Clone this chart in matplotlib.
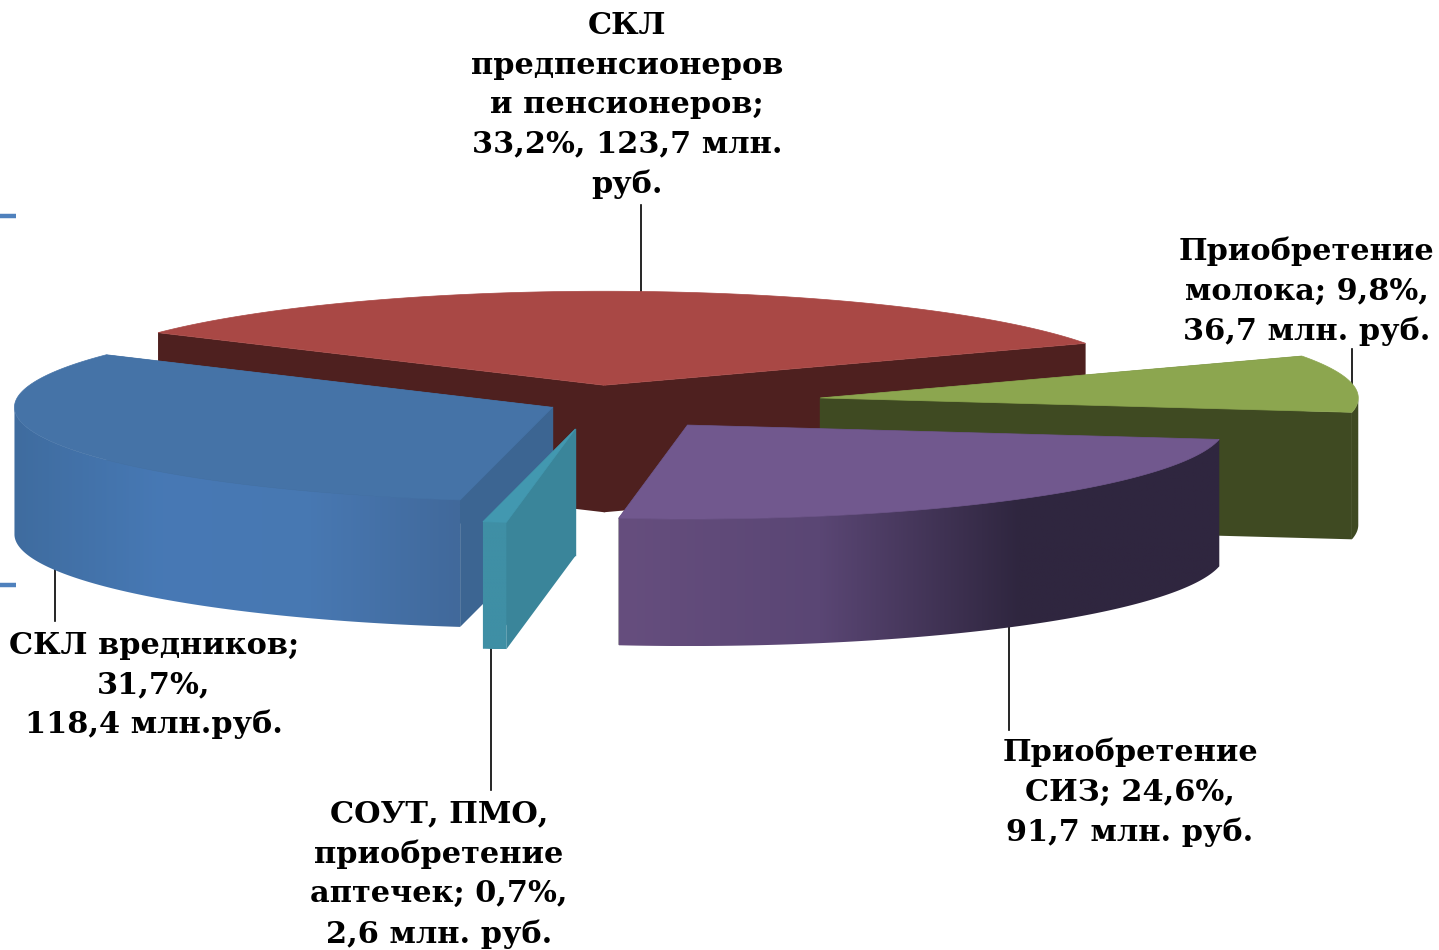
import matplotlib
matplotlib.use('Agg')
import matplotlib.pyplot as plt
from matplotlib.colors import LinearSegmentedColormap
from matplotlib.patches import Polygon
import numpy as np

labels = [
    "СКЛ\nпредпенсионеров\nи пенсионеров;\n33,2%, 123,7 млн.\nруб.",
    "Приобретение\nмолока; 9,8%,\n36,7 млн. руб.",
    "Приобретение\nСИЗ; 24,6%,\n91,7 млн. руб.",
    "СОУТ, ПМО,\nприобретение\nаптечек; 0,7%,\n2,6 млн. руб.",
    "СКЛ вредников;\n31,7%,\n118,4 млн.руб.",
]
shares = [33.2, 9.8, 24.6, 0.7, 31.7]

# look of the slices, same order as shares
explode = [0.20, 0.42, 0.28, 0.27, 0.09]
top_colors = ['#A94845', '#8CA64F', '#71588E', '#4298B0', '#4573A7']
cut_colors = ['#4E201F', '#3F4A22', '#31263F', '#3A859A', '#3C6592']
wall_colors = [
    ['#4E201F', '#4E201F'],
    ['#3F4A22', '#3F4A22'],
    ['#664E7E', '#5A4674', '#2F263F', '#30263F'],
    ['#3F8FA5', '#3F8FA5'],
    ['#3F6C9F', '#4779B5', '#4878B2', '#41699B'],
]
label_pos = [(627, 105), (1307, 291), (1130, 792), (439, 874), (154, 685)]
leaders = [((641, 205), (641, 295)), ((1352, 349), (1352, 390)),
           ((1009, 620), (1009, 730)), ((491, 645), (491, 790)),
           ((55, 560), (55, 621))]

cx, cy = 597, 404       # pie centre in px
rx, ry = 538, 94        # ellipse of the tilted pie
depth = 127
start_angle = 146.0

fig, ax = plt.subplots(figsize=(14.39, 9.5), dpi=100)
ax.set_position([0, 0, 1, 1])
ax.axis('off')

for p0, p1 in leaders:
    ax.plot([p0[0], p1[0]], [p0[1], p1[1]], color='black', lw=1.2, zorder=1)
for y in (216, 585):
    ax.plot([0, 16], [y, y], color='#4F81BD', lw=3.2, solid_capstyle='butt', zorder=1)


def ell(ox, oy, deg):
    t = np.radians(deg)
    return ox + rx * np.cos(t), oy - ry * np.sin(t)


# angles of every slice, clockwise from the start
ends = start_angle - np.cumsum(shares) * 3.6
starts = np.r_[start_angle, ends[:-1]]
# painter order: back slices first
order = [0, 1, 4, 3, 2]
z = 2
for i in order:
    a0, a1 = starts[i], ends[i]
    mid = np.radians((a0 + a1) / 2)
    ox = cx + explode[i] * rx * np.cos(mid)
    oy = cy - explode[i] * ry * np.sin(mid)
    ang = np.linspace(a0, a1, 240)
    ex, ey = ell(ox, oy, ang)

    # flat cut faces, the short line hides the seam at the apex
    for a in (a0, a1):
        px, py = ell(ox, oy, a)
        ax.fill([ox, px, px, ox], [oy, py, py + depth, oy + depth],
                color=cut_colors[i], lw=0, zorder=z)
    ax.plot([ox, ox], [oy, oy + depth - 1], color=cut_colors[i], lw=1, zorder=z)
    z += 1

    # outer wall, only the front half of the ellipse shows
    cmap = LinearSegmentedColormap.from_list('wall', wall_colors[i])
    vis = np.sin(np.radians(ang)) <= 0
    vx, vy = ex[vis], ey[vis]
    if len(vx) > 1:
        wall = Polygon(np.c_[np.r_[vx, vx[::-1]], np.r_[vy, vy[::-1] + depth]],
                       closed=True, fc='none', ec='none', zorder=z)
        ax.add_patch(wall)
        im = ax.imshow(np.linspace(0, 1, 256).reshape(1, -1), cmap=cmap, aspect='auto',
                       extent=(vx.min(), vx.max(), vy.max() + depth, vy.min()),
                       interpolation='bilinear', zorder=z)
        im.set_clip_path(wall)
    z += 1

    # top
    ax.fill(np.r_[ox, ex], np.r_[oy, ey], color=top_colors[i], lw=0.5, zorder=z)
    z += 1

ax.set_xlim(0, 1439)
ax.set_ylim(950, 0)

for lab, pos in zip(labels, label_pos):
    ax.text(pos[0], pos[1], lab, ha='center', va='center', multialignment='center',
            family='DejaVu Serif', weight='bold', fontsize=21.9, linespacing=1.46,
            color='black', zorder=50)

plt.savefig('out.png', dpi=100)
